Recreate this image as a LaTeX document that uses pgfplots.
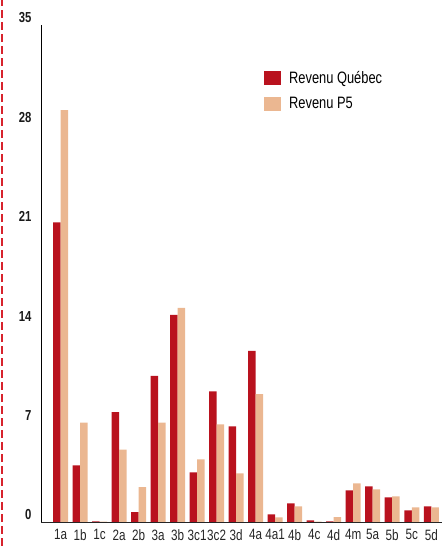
\documentclass[border=0pt]{standalone}
\usepackage{pgfplots}
\pgfplotsset{compat=1.18}
\usepackage{fontspec}
\setmainfont{Liberation Sans}[FakeStretch=0.85]
\newfontfamily\cond{Liberation Sans}[FakeStretch=0.78]
\definecolor{quebec}{RGB}{185,18,30}
\definecolor{pfive}{RGB}{235,183,145}
\definecolor{dashred}{RGB}{215,35,45}

\pgfplotstableread{
x  cat  quebec  pfive
0  1a   21.1    29.0
1  1b   3.98    7.0
2  1c   0.05    0.03
3  2a   7.73    5.1
4  2b   0.69    2.46
5  3a   10.29   7.0
6  3b   14.59   15.08
7  3c1  3.5     4.41
8  3c2  9.2     6.88
9  3d   6.74    3.43
10 4a   12.05   9.0
11 4a1  0.54    0.33
12 4b   1.31    1.10
13 4c   0.12    0.02
14 4d   0.05    0.35
15 4m   2.23    2.72
16 5a   2.51    2.30
17 5b   1.74    1.81
18 5c   0.82    1.03
19 5d   1.10    1.03
}\revenus

\begin{document}
\begin{tikzpicture}
\begin{axis}[
  name=ax,
  scale only axis,
  width=401pt, height=497pt,
  xmin=-1, xmax=19.55,
  ymin=0, ymax=35,
  axis x line*=bottom,
  axis y line*=left,
  axis line style={-, line width=0.9pt},
  x axis line style={black!85},
  ybar=0pt,
  bar width=7.5pt,
  xtick=data,
  xticklabels from table={\revenus}{cat},
  ytick={0,7,14,21,28,35},
  major tick length=0pt,
  /pgf/number format/assume math mode=true,
  xticklabel style={font=\cond\fontsize{15}{15}\selectfont, yshift=-4pt, text=black!85},
  yticklabel style={font=\cond\fontsize{14.5}{14.5}\selectfont\bfseries, xshift=-6pt, yshift=7pt, text=black!90},
  legend style={draw=none, fill=none, at={(axis description cs:0.556,0.912)},
    anchor=north west, row sep=9pt, font=\cond\fontsize{16.5}{16.5}\selectfont,
    inner sep=0pt},
  legend cell align=left,
  legend image code/.code={\fill[#1] (0pt,-7pt) rectangle (17pt,7pt); \path (23pt,0pt);},
]
\addplot[fill=quebec, draw=none] table[x=x, y=quebec] {\revenus};
\addlegendentry{Revenu Québec}
\addplot[fill=pfive, draw=none] table[x=x, y=pfive] {\revenus};
\addlegendentry{Revenu P5}
\end{axis}
\draw[dashred, line width=1.6pt, dash pattern=on 8pt off 4pt]
  ([xshift=-39pt, yshift=-24pt]ax.south west) -- ([xshift=-39pt, yshift=25pt]ax.north west);
\pgfresetboundingbox
\path[use as bounding box] ([xshift=-41pt, yshift=-24pt]ax.south west) rectangle ([yshift=25pt]ax.north east);
\end{tikzpicture}
\end{document}
